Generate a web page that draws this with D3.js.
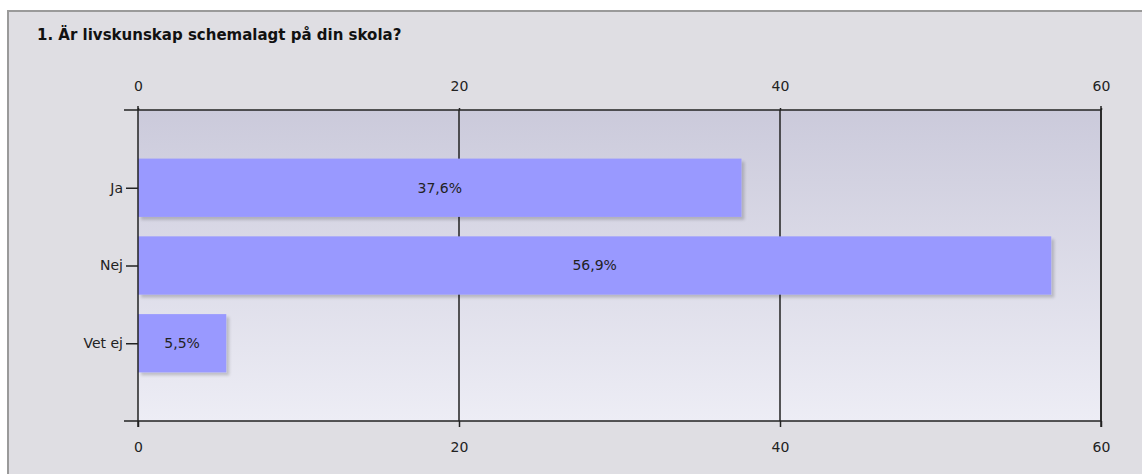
<!DOCTYPE html>
<html>
<head>
<meta charset="utf-8">
<script src="https://cdn.jsdelivr.net/npm/d3@7"></script>
<style>
  body { margin: 0; background: #fff; }
  svg text { font-family: Tahoma, "DejaVu Sans", sans-serif; }
</style>
</head>
<body>
<svg id="chart"></svg>
<script>
const title = "1. Är livskunskap schemalagt på din skola?";
const categories = ["Ja", "Nej", "Vet ej"];
const values = [37.6, 56.9, 5.5];
const labels = ["37,6%", "56,9%", "5,5%"];
const xTicks = [0, 20, 40, 60];

const width = 1142, height = 474;
const plot = { left: 138, right: 1101, top: 110, bottom: 421 };

const svg = d3.select("#chart").attr("width", width).attr("height", height);

const defs = svg.append("defs");
const grad = defs.append("linearGradient")
  .attr("id", "bg").attr("x1", 0).attr("y1", 0).attr("x2", 0).attr("y2", 1);
grad.append("stop").attr("offset", "0%").attr("stop-color", "#cbcadb");
grad.append("stop").attr("offset", "100%").attr("stop-color", "#ededf5");

const shadow = defs.append("filter").attr("id", "shadow")
  .attr("x", "-5%").attr("y", "-20%").attr("width", "120%").attr("height", "160%");
shadow.append("feGaussianBlur").attr("in", "SourceAlpha").attr("stdDeviation", 1.5);
shadow.append("feOffset").attr("dx", 3).attr("dy", 3).attr("result", "off");
shadow.append("feComponentTransfer").append("feFuncA").attr("type", "linear").attr("slope", 0.18);
const merge = shadow.append("feMerge");
merge.append("feMergeNode");
merge.append("feMergeNode").attr("in", "SourceGraphic");

// outer panel
svg.append("rect")
  .attr("x", 8).attr("y", 11).attr("width", width + 20).attr("height", height + 20)
  .attr("fill", "#dfdee3").attr("stroke", "#9a9a9a").attr("stroke-width", 2);

svg.append("text")
  .attr("x", 37).attr("y", 40)
  .attr("font-size", 15).attr("font-weight", "bold").attr("fill", "#111")
  .text(title);

const x = d3.scaleLinear().domain([0, 60]).range([plot.left, plot.right]);
const y = d3.scalePoint().domain(categories).range([plot.top, plot.bottom]).padding(1);
const barH = y.step() * 0.75;

svg.append("rect")
  .attr("x", plot.left).attr("y", plot.top)
  .attr("width", plot.right - plot.left).attr("height", plot.bottom - plot.top)
  .attr("fill", "url(#bg)");

// vertical grid
svg.append("g").selectAll("line")
  .data(xTicks.slice(1))
  .join("line")
  .attr("x1", d => x(d)).attr("x2", d => x(d))
  .attr("y1", plot.top).attr("y2", plot.bottom)
  .attr("stroke", "#222").attr("stroke-width", 1.5);

// bars
svg.append("g").selectAll("rect")
  .data(categories)
  .join("rect")
  .attr("x", x(0))
  .attr("y", d => y(d) - barH / 2)
  .attr("width", (d, i) => x(values[i]) - x(0))
  .attr("height", barH)
  .attr("fill", "#9999ff")
  .attr("filter", "url(#shadow)");

svg.append("g").selectAll("text")
  .data(categories)
  .join("text")
  .attr("x", (d, i) => (x(0) + x(values[i])) / 2)
  .attr("y", d => y(d))
  .attr("dy", "0.35em")
  .attr("text-anchor", "middle")
  .attr("font-size", 14).attr("fill", "#222")
  .text((d, i) => labels[i]);

// axes
const axisStyle = g => {
  g.select(".domain").attr("stroke", "#222").attr("stroke-width", 1.5);
  g.selectAll(".tick line").attr("stroke", "#222").attr("stroke-width", 1.5);
  g.selectAll(".tick text").attr("font-size", 14).attr("fill", "#222")
    .style("font-family", "Tahoma, 'DejaVu Sans', sans-serif");
};

svg.append("g")
  .attr("transform", `translate(0,${plot.top})`)
  .call(d3.axisTop(x).tickValues(xTicks).tickSize(2).tickSizeOuter(0).tickPadding(17))
  .call(axisStyle)
  .call(g => g.select(".domain").attr("d", `M${plot.left - 14},0H${plot.right}`));

svg.append("g")
  .attr("transform", `translate(0,${plot.bottom})`)
  .call(d3.axisBottom(x).tickValues(xTicks).tickSize(6).tickSizeOuter(0).tickPadding(15))
  .call(axisStyle)
  .call(g => g.select(".domain").attr("d", `M${plot.left - 14},0H${plot.right}`));

svg.append("g")
  .attr("transform", `translate(${plot.left},0)`)
  .call(d3.axisLeft(y).tickSize(12).tickPadding(3))
  .call(axisStyle)
  .call(g => g.select(".domain").attr("d", `M0,${plot.top - 4}V${plot.bottom + 6}`));

svg.append("line")
  .attr("x1", plot.right).attr("x2", plot.right)
  .attr("y1", plot.top - 4).attr("y2", plot.bottom + 6)
  .attr("stroke", "#222").attr("stroke-width", 1.5);
</script>
</body>
</html>
